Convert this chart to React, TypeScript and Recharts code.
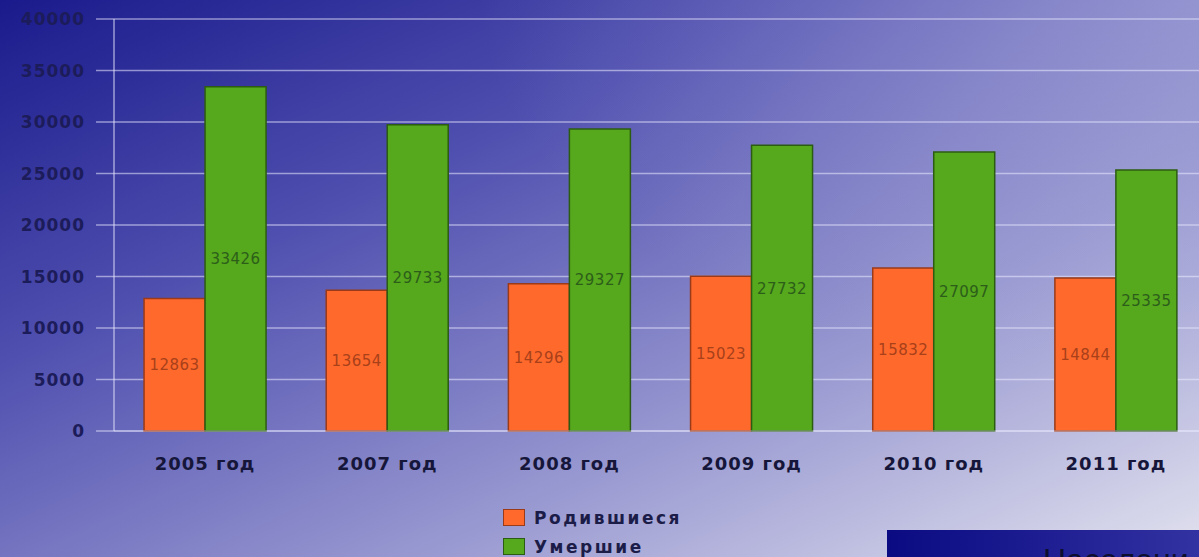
import React from 'react';
import { BarChart, Bar, XAxis, YAxis, CartesianGrid, Legend, LabelList } from 'recharts';

const years = ['2005 год', '2007 год', '2008 год', '2009 год', '2010 год', '2011 год'];
const born = [12863, 13654, 14296, 15023, 15832, 14844];
const died = [33426, 29733, 29327, 27732, 27097, 25335];
const yTicks = [0, 5000, 10000, 15000, 20000, 25000, 30000, 35000, 40000];

const data = years.map((year, i) => ({ year, born: born[i], died: died[i] }));

const legendItems = [
  { name: 'Родившиеся', fill: '#ff6a2c', stroke: '#9a3a18' },
  { name: 'Умершие', fill: '#56a81c', stroke: '#2c5c12' },
];

const font = '"DejaVu Sans", Verdana, sans-serif';

function LegendBox() {
  return (
    <div style={{ height: 58, fontFamily: font }}>
      {legendItems.map((it) => (
        <div key={it.name} style={{ display: 'flex', alignItems: 'center', height: 29 }}>
          <span
            style={{
              display: 'inline-block',
              width: 20,
              height: 15,
              background: it.fill,
              border: `1px solid ${it.stroke}`,
              marginRight: 9,
            }}
          />
          <span style={{ fontSize: 17, fontWeight: 'bold', color: '#1c1c48', letterSpacing: 2.5 }}>{it.name}</span>
        </div>
      ))}
    </div>
  );
}

export default function App() {
  return (
    <div
      style={{
        position: 'fixed',
        left: 0,
        top: 0,
        width: 1199,
        height: 557,
        overflow: 'hidden',
        background:
          'radial-gradient(ellipse 60% 70% at 100% 0%, rgba(180,180,225,0.5), rgba(180,180,225,0) 100%), linear-gradient(to bottom right, #1a1a8c 0%, #5050b0 33%, #9a9ad2 68%, #e2e2ef 100%)',
        fontFamily: font,
      }}
    >
      <BarChart
        width={1207}
        height={557}
        data={data}
        margin={{ top: 19, right: 0, bottom: 28, left: 0 }}
        barCategoryGap="16.5%"
        barGap={0}
      >
        <CartesianGrid stroke="rgba(235,235,255,0.55)" strokeWidth={1.5} vertical={false} />
        <XAxis
          dataKey="year"
          height={40}
          axisLine={{ stroke: 'rgba(235,235,255,0.55)' }}
          tickLine={false}
          tickMargin={20}
          tick={{ fontSize: 18, fontWeight: 'bold', fill: '#16163a', letterSpacing: 1 }}
        />
        <YAxis
          width={114}
          domain={[0, 40000]}
          ticks={yTicks}
          interval={0}
          tickSize={18}
          tickMargin={11}
          axisLine={{ stroke: 'rgba(235,235,255,0.6)', strokeWidth: 1.5 }}
          tickLine={{ stroke: 'rgba(235,235,255,0.55)', strokeWidth: 1.5 }}
          tick={{ fontSize: 17, fontWeight: 'bold', fill: '#1c1c5a', letterSpacing: 1 }}
        />
        <Legend
          layout="vertical"
          verticalAlign="bottom"
          align="center"
          content={<LegendBox />}
          wrapperStyle={{ top: 503, left: 503, width: 240, bottom: 'auto' }}
        />
        <Bar dataKey="born" name="Родившиеся" fill="#ff6a2c" stroke="#9a3a18" strokeWidth={1.5} isAnimationActive={false}>
          <LabelList dataKey="born" position="center" fontSize={15} fill="#a8401a" letterSpacing={0.5} />
        </Bar>
        <Bar dataKey="died" name="Умершие" fill="#56a81c" stroke="#2c5c12" strokeWidth={1.5} isAnimationActive={false}>
          <LabelList dataKey="died" position="center" fontSize={15} fill="#2c5e1a" letterSpacing={0.5} />
        </Bar>
      </BarChart>
      <div
        style={{
          position: 'absolute',
          left: 887,
          top: 530,
          width: 312,
          height: 27,
          overflow: 'hidden',
          background: 'linear-gradient(to right, #0a0a82, #3232a2)',
        }}
      >
        <span
          style={{
            position: 'absolute',
            left: 156,
            top: 12,
            fontSize: 32,
            fontFamily: 'Arial, "Liberation Sans", sans-serif',
            color: '#0e0e2e',
            whiteSpace: 'nowrap',
          }}
        >
          Населени
        </span>
      </div>
    </div>
  );
}
